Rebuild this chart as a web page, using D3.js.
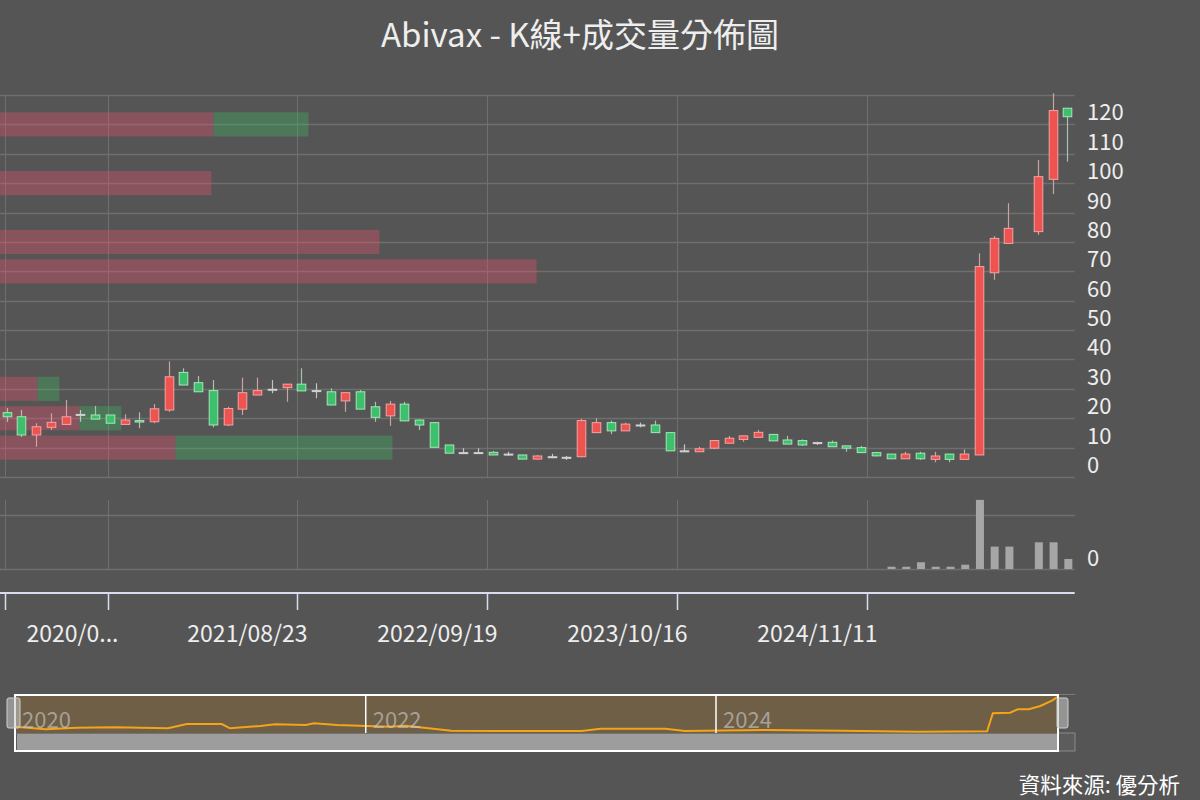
<!DOCTYPE html>
<html><head><meta charset="utf-8">
<script src="https://cdn.jsdelivr.net/npm/d3@7"></script>
<style>html,body{margin:0;padding:0;background:#555;}svg{display:block;}</style>
</head><body>
<svg id="chart" width="1200" height="800"></svg>
<script>
// ---------------- DATA ----------------
const categories = d3.timeMonth.range(new Date(2020,0,1), new Date(2026,1,1)).map(d3.timeFormat("%Y/%m"));
const openP  = [21.9,20.5,14.3,16.9,17.9,21.3,21.1,21.1,17.9,19.2,18.8,22.8,35.6,32.1,29.4,17.7,23.1,27.9,29.85,30.4,31.6,29.4,29.0,25.9,29.0,23.9,20.8,24.8,19.4,18.5,10.9,8.3,8.3,8.4,7.8,7.5,6.1,6.9,6.7,6.9,15.1,18.5,15.7,17.7,17.7,15.1,8.9,8.6,9.8,11.5,12.8,13.5,14.5,12.6,12.4,11.7,11.8,10.6,10.0,8.3,7.8,6.2,8.1,6.0,7.8,6.0,7.5,69.5,79.5,null,83.5,101.3,125.5];
const closeP = [20.5,14.3,17.1,18.6,20.5,21.3,19.7,18.3,19.4,18.7,23.2,34.1,31.3,29.0,17.7,23.3,28.7,29.4,29.85,31.6,29.3,29.4,24.5,28.7,23.1,20.3,24.8,19.1,17.7,10.1,8.1,8.3,8.3,7.5,7.8,6.1,7.15,6.9,6.7,19.2,18.5,15.7,18.0,17.7,15.1,8.9,8.9,9.6,12.4,13.2,14.0,15.2,12.3,11.2,10.9,11.7,10.3,9.8,8.3,7.2,6.2,7.8,6.2,7.15,6.0,7.8,71.6,81.2,84.6,null,102.2,124.7,122.6];
const lowP   = [18.7,13.6,10.3,16.0,17.8,18.8,19.7,18.3,17.8,16.6,18.3,22.2,31.3,29.0,16.9,17.4,21.1,27.9,28.5,25.6,29.3,26.8,24.5,22.2,23.1,18.8,17.4,19.1,16.0,10.1,8.1,7.8,7.8,7.5,7.25,6.1,5.9,6.4,5.8,6.7,15.1,14.6,15.7,16.9,15.1,8.9,8.6,8.6,9.5,11.5,12.0,13.5,12.3,11.2,10.6,10.9,10.3,8.6,8.3,7.0,6.2,6.2,5.8,5.0,5.0,6.0,7.5,67.1,79.5,null,82.4,96.3,107.3];
const highP  = [23.5,22.8,18.3,21.7,26.2,22.8,24.2,21.1,21.3,22.0,24.8,39.3,37.0,34.4,33.0,23.9,33.8,33.8,33.0,31.6,37.0,31.9,30.2,28.7,29.6,25.6,25.9,25.6,19.6,18.5,10.9,9.8,9.8,8.9,8.6,7.5,7.5,7.9,7.15,19.8,20.0,19.2,18.5,18.5,19.2,15.1,11.1,10.3,12.6,14.0,14.0,16.0,14.5,14.0,12.8,12.0,12.4,10.6,10.6,8.5,7.8,8.6,8.6,8.6,7.8,9.4,76.1,82.0,93.2,null,107.9,130.6,125.5];
// volume (millions of shares)
const volume = [0,0,0,0,0,0,0,0,0,0,0,0,0,0,0,0,0,0,0,0,0,0,0,0,0,0,0,0,0,0,0,0,0,0,0,0,0,0,0,0,0,0,0,0,0,0,0,0,0,0,0,0,0,0,0,0,0,0,0,0,0.85,0.85,2.5,0.85,0.85,1.6,25.6,8.3,8.3,null,9.9,9.9,3.7];
const tickIndex  = [0,7,20,33,46,59];
const tickLabels = ["","2020/07/27","2021/08/23","2022/09/19","2023/10/16","2024/11/11"];
const priceTicks = [0,10,20,30,40,50,60,70,80,90,100,110,120];
const volumeTicks = [0];
// volume profile (price bin centre, up volume, down volume)
const profilePrice = [10,20,30,70,80,100,120];
const profileUp    = [17.6,8.0,3.8,53.7,38.0,21.2,21.4];
const profileDown  = [21.7,4.2,2.2,0,0,0,9.5];
// overview (daily close sampled) for the slider
const overviewDates = ["2020-01-01","2020-03-05","2020-05-08","2020-07-27","2020-11-15","2020-12-24","2021-03-07","2021-03-24","2021-05-26","2021-06-26","2021-08-29","2021-09-15","2021-11-02","2022-01-04","2022-02-21","2022-03-25","2022-05-12","2022-06-28","2022-10-02","2023-03-27","2023-05-05","2023-09-18","2023-10-28","2024-04-12","2024-09-19","2025-02-25","2025-07-19","2025-07-31","2025-09-05","2025-09-21","2025-10-14","2025-11-07","2025-12-01","2025-12-14"];
const overviewClose = [21.6,12.7,18.1,19.5,16.1,30.8,30.8,16.1,23.9,29.8,27.4,33.2,27.4,23.9,21.6,25.0,16.1,7.9,6.8,6.8,14.7,14.7,6.8,10.3,7.9,4.4,5.8,67.4,69.4,81.1,81.1,92.4,110.5,124.2];
const overviewYears = ["2020","2022","2024"];
const titleText = "Abivax - K線+成交量分佈圖";
const sourceText = "資料來源: 優分析";

// ---------------- LAYOUT ----------------
const FONT = "'Noto Sans CJK TC','Noto Sans',sans-serif";
const svg = d3.select("#chart");
const W = 1200;
const plotL = -0.7, plotR = 1074.7;
const x = d3.scaleBand().domain(categories).range([plotL, plotR]).padding(0);
const xTick = d3.scaleBand().domain(categories).range([5.3, 5.3 + 14.6*categories.length]).padding(0);
const bw = x.bandwidth();
const y = d3.scaleLinear().domain([0,130]).range([477,95]);
const yVol = d3.scaleLinear().domain([0,20]).range([569,515]);
const profX = d3.scaleLinear().domain([0,107.5]).range([plotL, plotR]);
const dzX = d3.scaleTime().domain([new Date(2020,0,1), new Date(2024,0,1)]).range([15,716]);
const dzY = d3.scaleLinear().domain([0,130]).range([733,695]);

svg.append("rect").attr("width",W).attr("height",800).attr("fill","#555555");

// title
svg.append("text").attr("x",580).attr("y",33).attr("text-anchor","middle").attr("dominant-baseline","central")
  .attr("font-family",FONT).attr("font-size",33).attr("fill","#eeeeee").text(titleText);

const gridColor = "#6f6f6f";
// price grid
const g = svg.append("g");
g.selectAll(".hg").data(y.ticks(13)).join("line")
  .attr("x1",0).attr("x2",plotR).attr("y1",d=>Math.round(y(d))+0.5).attr("y2",d=>Math.round(y(d))+0.5)
  .attr("stroke",gridColor).attr("stroke-width",1.5);
const tickX = k => Math.round(xTick(categories[k]))+0.5;
g.selectAll(".vg").data(tickIndex).join("line")
  .attr("x1",tickX).attr("x2",tickX).attr("y1",95).attr("y2",477)
  .attr("stroke",gridColor).attr("stroke-width",1);

// volume profile bars
const binH = (y(0)-y(10))*0.82;
const prof = svg.append("g");
profilePrice.forEach((p,i)=>{
  const yc = y(p);
  prof.append("rect").attr("x",profX(0)).attr("y",yc-binH/2).attr("width",profX(profileUp[i])-profX(0)).attr("height",binH)
    .attr("fill","rgba(235,80,110,0.35)");
  if(profileDown[i]>0)
    prof.append("rect").attr("x",profX(profileUp[i])).attr("y",yc-binH/2).attr("width",profX(profileUp[i]+profileDown[i])-profX(profileUp[i])).attr("height",binH)
      .attr("fill","rgba(60,200,100,0.30)");
});

// candles
const cg = svg.append("g");
const bodyW = 8.6;
categories.forEach((c,i)=>{
  if(openP[i]==null) return;
  const o=openP[i], cl=closeP[i], lo=lowP[i], hi=highP[i];
  const cx = Math.round(x(c)+bw/2)+0.5;
  let fill, stroke, wick;
  if(cl>o){fill="#ef5350";stroke="#f5a3a3";wick="#c8a4a4";}
  else if(cl<o){fill="#3cc06c";stroke="#a8e4b9";wick="#a7c2ad";}
  else {fill="#cfcfcf";stroke="#d0d0d0";wick="#c4c4c4";}
  cg.append("line").attr("x1",cx).attr("x2",cx).attr("y1",y(hi)).attr("y2",y(lo)).attr("stroke",wick).attr("stroke-width",1.2);
  const top=y(Math.max(o,cl)), bot=y(Math.min(o,cl));
  cg.append("rect").attr("x",cx-bodyW/2).attr("y",top).attr("width",bodyW).attr("height",Math.max(1,bot-top))
    .attr("fill",fill).attr("stroke",stroke).attr("stroke-width",1);
});

// price labels
svg.append("g").selectAll("text").data(priceTicks).join("text")
  .attr("x",1087).attr("y",d=>y(d)-14).attr("dominant-baseline","central")
  .attr("font-family",FONT).attr("font-size",22).attr("fill","#eeeeee").text(d=>d);

// volume grid
const vg = svg.append("g");
vg.selectAll(".vh").data([0,20]).join("line")
  .attr("x1",0).attr("x2",plotR).attr("y1",d=>Math.round(yVol(d))+0.5).attr("y2",d=>Math.round(yVol(d))+0.5)
  .attr("stroke",gridColor).attr("stroke-width",1.5);
vg.selectAll(".vv").data(tickIndex).join("line")
  .attr("x1",tickX).attr("x2",tickX).attr("y1",500).attr("y2",569)
  .attr("stroke",gridColor).attr("stroke-width",1);
categories.forEach((c,i)=>{
  const v=volume[i];
  if(v==null||v<=0) return;
  const cx = x(c)+bw/2+1;
  vg.append("rect").attr("x",cx-4).attr("y",yVol(v)).attr("width",8).attr("height",yVol(0)-yVol(v)).attr("fill","#a6a6a6");
});
svg.append("g").selectAll("text").data(volumeTicks).join("text")
  .attr("x",1087).attr("y",d=>yVol(d)-13).attr("dominant-baseline","central")
  .attr("font-family",FONT).attr("font-size",22).attr("fill","#eeeeee").text(d=>d);

// x axis
const axisColor="#d8dcee";
svg.append("line").attr("x1",0).attr("x2",plotR).attr("y1",593).attr("y2",593).attr("stroke",axisColor).attr("stroke-width",2);
svg.append("g").selectAll("line").data(tickIndex).join("line")
  .attr("x1",tickX).attr("x2",tickX).attr("y1",593).attr("y2",610).attr("stroke",axisColor).attr("stroke-width",1.5);
const xl = svg.append("g");
tickIndex.forEach((k,j)=>{
  const lab = tickLabels[j]; if(!lab) return;
  const tx = tickX(k)+10;
  const t = xl.append("text").attr("x",tx).attr("y",632).attr("text-anchor","end").attr("dominant-baseline","central")
    .attr("font-family",FONT).attr("font-size",23).attr("fill","#eeeeee").text(lab);
  const avail = tx-26;
  if(t.node().getComputedTextLength()>avail){
    let s=lab;
    while(s.length>1){ s=s.slice(0,-1); t.text(s+"..."); if(t.node().getComputedTextLength()<=avail) break; }
  }
});

// data zoom slider
const dz = svg.append("g");
dz.append("line").attr("x1",15).attr("x2",1075).attr("y1",694.5).attr("y2",694.5).attr("stroke","#7a7a7a").attr("stroke-width",1);
dz.append("rect").attr("x",15).attr("y",733).attr("width",1060).attr("height",18).attr("fill","#5c5c5c").attr("stroke","#8a8a8a").attr("stroke-width",1);
dz.append("rect").attr("x",15).attr("y",695).attr("width",1043).attr("height",38).attr("fill","#6e5f46");
dz.append("rect").attr("x",17).attr("y",734).attr("width",1041).attr("height",17).attr("fill","#9d9d9d");
const parse = d3.timeParse("%Y-%m-%d");
const ov = overviewDates.map((d,i)=>[parse(d), overviewClose[i]]);
dz.append("path").datum(ov).attr("d",d3.line().x(d=>dzX(d[0])).y(d=>dzY(d[1])))
  .attr("fill","none").attr("stroke","#f5a418").attr("stroke-width",2);
overviewYears.forEach((yr,i)=>{
  const xx = dzX(new Date(+yr,0,1));
  if(i>0) dz.append("line").attr("x1",xx).attr("x2",xx).attr("y1",695).attr("y2",733).attr("stroke","#ffffff").attr("stroke-width",1.5);
  dz.append("text").attr("x",xx+7).attr("y",718).attr("dominant-baseline","central")
    .attr("font-family",FONT).attr("font-size",22).attr("fill","rgba(200,200,200,0.65)").text(yr);
});
dz.append("rect").attr("x",15).attr("y",695).attr("width",1043).attr("height",56).attr("fill","none").attr("stroke","#ffffff").attr("stroke-width",2);
dz.append("rect").attr("x",7).attr("y",698).attr("width",13).attr("height",30).attr("rx",2).attr("fill","rgba(200,200,200,0.55)").attr("stroke","#cfcfcf").attr("stroke-width",1);
dz.append("rect").attr("x",1057).attr("y",698).attr("width",11).attr("height",30).attr("rx",2).attr("fill","rgba(200,200,200,0.55)").attr("stroke","#cfcfcf").attr("stroke-width",1);

// source
svg.append("text").attr("x",1180).attr("y",783).attr("text-anchor","end").attr("dominant-baseline","central")
  .attr("font-family",FONT).attr("font-size",21.5).attr("fill","#ffffff").text(sourceText);
</script>
</body></html>
